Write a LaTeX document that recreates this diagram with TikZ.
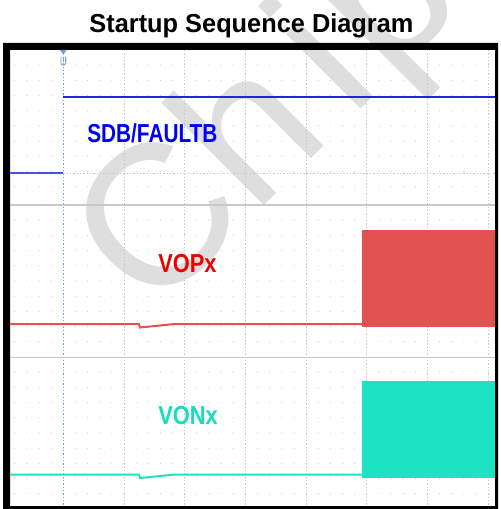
\documentclass[tikz,border=0pt]{standalone}
\usepackage{fontspec}
\setmainfont{Liberation Sans}
\definecolor{sdbblue}{RGB}{0,0,250}
\definecolor{trblue}{RGB}{35,35,225}
\definecolor{trbluelow}{RGB}{70,80,225}
\definecolor{vopred}{RGB}{236,0,0}
\definecolor{trred}{RGB}{226,82,80}
\definecolor{vonteal}{RGB}{22,222,188}
\definecolor{trteal}{RGB}{30,226,196}
\definecolor{wmgray}{RGB}{222,222,222}
\definecolor{gridc}{RGB}{200,200,200}
\definecolor{dotc}{RGB}{205,205,205}
\definecolor{cursorc}{RGB}{110,160,225}
\begin{document}
\begin{tikzpicture}[x=0.75pt,y=-0.75pt,
  lbl/.style={anchor=base west,inner sep=0pt,font=\bfseries\fontsize{19.5}{20}\selectfont},
  wmark/.style={text=wmgray, rotate=45, anchor=base west, inner sep=0pt,
      font=\fontsize{150}{152}\selectfont},
  trace/.style={line width=1.5pt},
  majorv/.style={gridc, line width=0.6pt, dash pattern=on 0.9pt off 1.6pt},
  panelsep/.style={gridc, line width=1.1pt}]
\useasboundingbox (0,0) rectangle (500,509);
\fill[white] (0,0) rectangle (500,509);
% watermark
\node[wmark] (wm1) at (152,318) {Ch};
\node[wmark] (wm2) at (351,119) {i};
\node[wmark] (wm3) at (389,81) {p};
% frame
\fill[black, even odd rule] (3,43) rectangle (498,509) (10,50) rectangle (495,506);
% minor dot grid
\foreach \i in {1,...,40} {
  \foreach \j in {1,...,9} {
    \fill[dotc] ({2.6+12.14*\i},{50+15.2*\j}) circle (0.6);
    \fill[dotc] ({2.6+12.14*\i},{205+15.2*\j}) circle (0.6);
    \fill[dotc] ({2.6+12.14*\i},{357+15.2*\j}) circle (0.6);
  }
}
% major vertical dotted lines
\foreach \k in {1,...,7} {
  \draw[majorv] ({63.3+60.7*\k},50) -- ({63.3+60.7*\k},506);
}
\draw[cursorc, line width=0.6pt, dash pattern=on 0.9pt off 1.6pt] (63.3,50) -- (63.3,506);
% ground reference / panel separators
\draw[gridc, line width=0.6pt, dash pattern=on 0.9pt off 1.6pt] (10,173) -- (495,173);
\draw[panelsep] (10,205) -- (495,205);
\draw[panelsep] (10,357.5) -- (495,357.5);
% trigger marker
\fill[cursorc] (60,50) -- (66.5,50) -- (63.3,54.5) -- cycle;
\draw[cursorc, line width=0.7pt, rounded corners=1pt] (61,57) -- (61,65) -- (65.6,65) -- (65.6,57);
\draw[cursorc, line width=0.7pt] (63.3,57) -- (63.3,62);
% blue trace SDB/FAULTB
\draw[trbluelow, line width=1.9pt] (10,173) -- (63.3,173);
\draw[trblue, trace] (63.3,97) -- (495,97);
% red trace VOPx
\draw[trred, trace] (10,324) -- (139,324) -- (140,327.5) -- (175,324) -- (362,324);
\fill[trred] (362,230) rectangle (495,327);
% teal trace VONx
\draw[trteal, trace] (10,474.5) -- (139,474.5) -- (140,478) -- (175,474.5) -- (362,474.5);
\fill[trteal] (362,381) rectangle (495,478);
% labels
\node[lbl, text=sdbblue] (sdb) at (87,143) {\scalebox{0.8}[1]{SDB/FAULTB}};
\node[lbl, text=vopred] (vop) at (158,272) {\scalebox{0.84}[1]{VOPx}};
\node[lbl, text=vonteal] (von) at (158,424) {\scalebox{0.84}[1]{VONx}};
% title
\node[anchor=base, inner sep=0pt, font=\bfseries\fontsize{19.5}{20}\selectfont] (title) at (251.5,33) {\scalebox{0.975}[1]{Startup Sequence Diagram}};
\end{tikzpicture}
\end{document}
